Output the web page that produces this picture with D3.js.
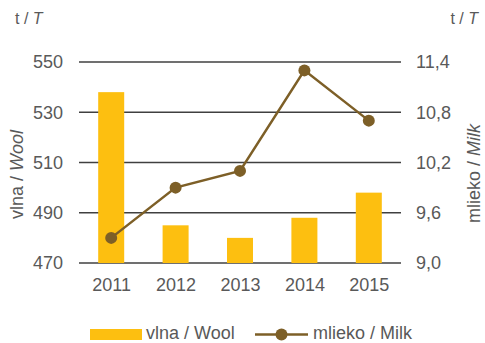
<!DOCTYPE html>
<html>
<head>
<meta charset="utf-8">
<script src="https://cdn.jsdelivr.net/npm/d3@7"></script>
<style>
  body { margin: 0; background: #fff; }
  svg text { font-family: "Liberation Sans", Arial, sans-serif; fill: #595959; }
</style>
</head>
<body>
<script>
// data
const years = ["2011", "2012", "2013", "2014", "2015"];
const wool = [538, 485, 480, 488, 498];
const milk = [9.3, 9.9, 10.1, 11.3, 10.7];
const woolTicks = [470, 490, 510, 530, 550];
const milkTicks = [9.0, 9.6, 10.2, 10.8, 11.4];

const width = 485, height = 343;
const plotL = 79, plotR = 401, plotT = 62, plotB = 263;
const fs = "18px";

const svg = d3.select("body").append("svg")
  .attr("width", width)
  .attr("height", height);

const xc = d3.scalePoint().domain(years).range([plotL, plotR]).padding(0.5);
const yL = d3.scaleLinear().domain([470, 550]).range([plotB, plotT]);
const yR = d3.scaleLinear().domain([9.0, 11.4]).range([plotB, plotT]);

// gridlines
svg.append("g")
  .selectAll("line")
  .data(woolTicks)
  .join("line")
  .attr("x1", plotL).attr("x2", plotR)
  .attr("y1", d => yL(d)).attr("y2", d => yL(d))
  .attr("stroke", "#404040")
  .attr("stroke-width", 1.3);

// bars
svg.append("g")
  .selectAll("rect")
  .data(years.map((y, i) => ({ y, v: wool[i] })))
  .join("rect")
  .attr("x", d => xc(d.y) - 13)
  .attr("width", 26)
  .attr("y", d => yL(d.v))
  .attr("height", d => yL(470) - yL(d.v))
  .attr("fill", "#FDBF10");

// left axis
const axL = svg.append("g")
  .attr("transform", `translate(${plotL},0)`)
  .call(d3.axisLeft(yL).tickValues(woolTicks).tickSize(0).tickPadding(16));
axL.select(".domain").remove();
axL.selectAll("text").style("font-size", fs).attr("fill", "#595959");

// right axis
const fmt = d => d3.format(".1f")(d).replace(".", ",");
const axR = svg.append("g")
  .attr("transform", `translate(${plotR},0)`)
  .call(d3.axisRight(yR).tickValues(milkTicks).tickSize(0).tickPadding(15).tickFormat(fmt));
axR.select(".domain").remove();
axR.selectAll("text").style("font-size", fs).attr("fill", "#595959");

// x axis
const axX = svg.append("g")
  .attr("transform", `translate(0,${plotB})`)
  .call(d3.axisBottom(xc).tickSize(0).tickPadding(15));
axX.select(".domain").remove();
axX.selectAll("text").style("font-size", fs).attr("fill", "#595959");

// line
const lineColor = "#7D5F27";
svg.append("path")
  .datum(milk)
  .attr("fill", "none")
  .attr("stroke", lineColor)
  .attr("stroke-width", 2.5)
  .attr("d", d3.line().x((d, i) => xc(years[i])).y(d => yR(d)));

svg.append("g")
  .selectAll("circle")
  .data(milk)
  .join("circle")
  .attr("cx", (d, i) => xc(years[i]))
  .attr("cy", d => yR(d))
  .attr("r", 6)
  .attr("fill", lineColor);

// units
svg.append("text").attr("x", 15).attr("y", 24).style("font-size", "16px")
  .html('t / <tspan font-style="italic">T</tspan>');
svg.append("text").attr("x", 478).attr("y", 24).attr("text-anchor", "end").style("font-size", "16px")
  .html('t / <tspan font-style="italic">T</tspan>');

// axis titles
svg.append("text")
  .attr("transform", `translate(23,${(plotT + plotB) / 2 + 12}) rotate(-90)`)
  .attr("text-anchor", "middle")
  .style("font-size", fs)
  .html('vlna / <tspan font-style="italic">Wool</tspan>');
svg.append("text")
  .attr("transform", `translate(480,${(plotT + plotB) / 2 + 11}) rotate(-90)`)
  .attr("text-anchor", "middle")
  .style("font-size", fs)
  .html('mlieko / <tspan font-style="italic">Milk</tspan>');

// legend
const lg = svg.append("g");
lg.append("rect").attr("x", 90).attr("y", 329).attr("width", 52).attr("height", 11).attr("fill", "#FDBF10");
lg.append("text").attr("x", 146).attr("y", 339).style("font-size", fs).text("vlna / Wool");
lg.append("line").attr("x1", 255).attr("x2", 308).attr("y1", 334.5).attr("y2", 334.5)
  .attr("stroke", lineColor).attr("stroke-width", 2.5);
lg.append("circle").attr("cx", 281.5).attr("cy", 334.5).attr("r", 6).attr("fill", lineColor);
lg.append("text").attr("x", 313).attr("y", 339).style("font-size", fs).text("mlieko / Milk");
</script>
</body>
</html>
